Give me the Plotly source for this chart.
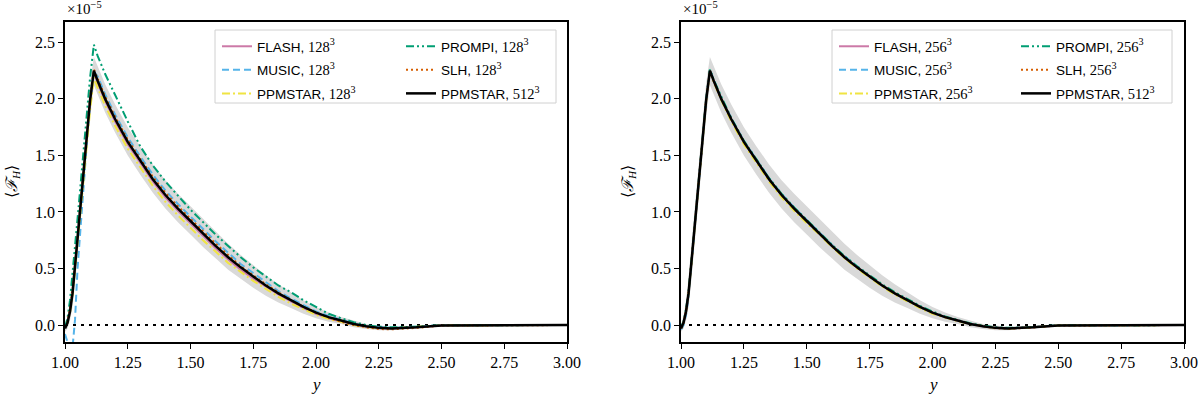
import plotly.graph_objects as go

# radial coordinate (shared by every profile)
y_grid = [1.00, 1.01, 1.02, 1.03, 1.04, 1.05, 1.06, 1.07, 1.08, 1.09, 1.10,
          1.115, 1.13, 1.16, 1.20, 1.25, 1.30, 1.35, 1.40, 1.45, 1.50, 1.55,
          1.60, 1.65, 1.70, 1.75, 1.80, 1.85, 1.90, 1.95, 2.00, 2.05, 2.10,
          2.15, 2.20, 2.25, 2.30, 2.40, 2.50, 2.75, 3.00]

# <F_H> in units of 1e-5
ppmstar_512 = [-0.03, 0.02, 0.12, 0.28, 0.52, 0.77, 1.02, 1.27, 1.52, 1.76, 1.99,
               2.25, 2.16, 2.00, 1.82, 1.62, 1.45, 1.29, 1.15, 1.03, 0.92, 0.81,
               0.70, 0.60, 0.51, 0.43, 0.35, 0.28, 0.22, 0.16, 0.11, 0.07, 0.04,
               0.01, -0.01, -0.025, -0.03, -0.02, -0.003, 0.0, 0.0]
band_hi = [0.0, 0.08, 0.22, 0.42, 0.68, 0.93, 1.18, 1.43, 1.68, 1.92, 2.14,
           2.37, 2.29, 2.13, 1.95, 1.75, 1.58, 1.42, 1.28, 1.16, 1.05, 0.94,
           0.83, 0.72, 0.62, 0.53, 0.44, 0.36, 0.29, 0.22, 0.16, 0.11, 0.07,
           0.04, 0.01, -0.005, -0.015, -0.01, 0.0, 0.0, 0.0]
band_lo = [-0.06, -0.03, 0.04, 0.16, 0.37, 0.61, 0.86, 1.11, 1.36, 1.60, 1.84,
           2.12, 2.04, 1.88, 1.70, 1.50, 1.33, 1.17, 1.03, 0.91, 0.80, 0.69,
           0.59, 0.49, 0.41, 0.33, 0.26, 0.20, 0.15, 0.10, 0.06, 0.03, 0.01,
           -0.02, -0.035, -0.045, -0.045, -0.03, -0.008, 0.0, 0.0]

# 128^3 runs
flash_128 = [-0.02, 0.03, 0.13, 0.29, 0.52, 0.76, 1.01, 1.26, 1.50, 1.74, 1.97,
             2.24, 2.14, 1.98, 1.80, 1.60, 1.43, 1.27, 1.13, 1.01, 0.90, 0.79,
             0.68, 0.58, 0.49, 0.41, 0.34, 0.27, 0.21, 0.15, 0.10, 0.06, 0.03,
             0.005, -0.015, -0.028, -0.03, -0.02, -0.003, 0.0, 0.0]
music_128 = [-0.08, -0.16, -0.22, -0.20, 0.05, 0.50, 0.82, 1.12, 1.42, 1.70, 1.96,
             2.24, 2.20, 2.04, 1.86, 1.66, 1.49, 1.33, 1.19, 1.07, 0.96, 0.85,
             0.74, 0.64, 0.54, 0.46, 0.38, 0.30, 0.235, 0.175, 0.12, 0.08, 0.045,
             0.015, -0.01, -0.02, -0.025, -0.015, -0.002, 0.0, 0.0]
ppmstar_128 = [-0.02, 0.02, 0.11, 0.26, 0.49, 0.73, 0.97, 1.21, 1.45, 1.68, 1.90,
               2.19, 2.10, 1.94, 1.76, 1.56, 1.39, 1.23, 1.09, 0.97, 0.86, 0.75,
               0.65, 0.55, 0.47, 0.39, 0.32, 0.25, 0.19, 0.14, 0.09, 0.055, 0.025,
               0.0, -0.015, -0.025, -0.028, -0.018, -0.003, 0.0, 0.0]
prompi_128 = [-0.02, 0.06, 0.22, 0.44, 0.69, 0.94, 1.19, 1.44, 1.69, 1.94, 2.19,
              2.48, 2.38, 2.22, 2.03, 1.80, 1.58, 1.41, 1.27, 1.14, 1.02, 0.91,
              0.80, 0.70, 0.60, 0.51, 0.43, 0.35, 0.29, 0.22, 0.16, 0.10, 0.06,
              0.025, 0.0, -0.015, -0.02, -0.015, -0.002, 0.0, 0.0]
slh_128 = [-0.02, 0.03, 0.14, 0.30, 0.54, 0.79, 1.04, 1.29, 1.54, 1.78, 2.01,
           2.26, 2.18, 2.02, 1.84, 1.64, 1.47, 1.31, 1.17, 1.05, 0.94, 0.83,
           0.72, 0.62, 0.52, 0.44, 0.36, 0.29, 0.22, 0.16, 0.11, 0.065, 0.03,
           0.0, -0.02, -0.035, -0.038, -0.025, -0.005, 0.0, 0.0]

# 256^3 runs
flash_256 = [-0.03, 0.02, 0.12, 0.28, 0.52, 0.77, 1.02, 1.27, 1.52, 1.76, 1.99,
             2.25, 2.16, 2.00, 1.82, 1.62, 1.45, 1.29, 1.15, 1.03, 0.92, 0.81,
             0.70, 0.60, 0.51, 0.43, 0.35, 0.28, 0.22, 0.16, 0.11, 0.07, 0.04,
             0.01, -0.01, -0.025, -0.03, -0.02, -0.003, 0.0, 0.0]
music_256 = [-0.04, 0.0, 0.09, 0.25, 0.49, 0.75, 1.00, 1.26, 1.51, 1.76, 1.99,
             2.26, 2.17, 2.01, 1.83, 1.63, 1.46, 1.30, 1.16, 1.04, 0.93, 0.82,
             0.71, 0.61, 0.52, 0.43, 0.35, 0.28, 0.22, 0.16, 0.11, 0.07, 0.04,
             0.01, -0.01, -0.025, -0.03, -0.02, -0.003, 0.0, 0.0]
ppmstar_256 = [-0.03, 0.02, 0.12, 0.28, 0.51, 0.76, 1.01, 1.26, 1.51, 1.75, 1.98,
               2.24, 2.15, 1.99, 1.80, 1.60, 1.43, 1.27, 1.13, 1.01, 0.90, 0.80,
               0.69, 0.59, 0.50, 0.42, 0.34, 0.27, 0.21, 0.15, 0.10, 0.065, 0.035,
               0.008, -0.012, -0.026, -0.03, -0.02, -0.003, 0.0, 0.0]
prompi_256 = [-0.02, 0.03, 0.14, 0.30, 0.54, 0.79, 1.04, 1.29, 1.54, 1.78, 2.00,
              2.26, 2.17, 2.02, 1.83, 1.63, 1.46, 1.30, 1.16, 1.04, 0.93, 0.82,
              0.71, 0.61, 0.52, 0.44, 0.36, 0.29, 0.23, 0.17, 0.12, 0.075, 0.045,
              0.015, -0.005, -0.02, -0.025, -0.018, -0.003, 0.0, 0.0]
slh_256 = [-0.03, 0.02, 0.12, 0.28, 0.52, 0.77, 1.02, 1.27, 1.52, 1.76, 1.99,
           2.25, 2.16, 2.00, 1.82, 1.62, 1.45, 1.29, 1.15, 1.03, 0.92, 0.81,
           0.70, 0.60, 0.51, 0.43, 0.35, 0.28, 0.22, 0.16, 0.11, 0.07, 0.04,
           0.01, -0.012, -0.028, -0.033, -0.022, -0.004, 0.0, 0.0]

x_ticks = [1.00, 1.25, 1.50, 1.75, 2.00, 2.25, 2.50, 2.75, 3.00]
y_ticks = [0.0, 0.5, 1.0, 1.5, 2.0, 2.5]
zero_x = [1.0, 3.0]
zero_y = [0.0, 0.0]

W, H = 1200, 399
SERIF = "Liberation Serif, Times New Roman, serif"
SANS = "Liberation Sans, Arial, sans-serif"

def px_x(p):
    return p / W

def px_y(p):
    return 1 - p / H

def label(name, res):
    return ("%s, <span style='font-family:Liberation Serif;font-size:14.5px'>%s<sup>3</sup></span>"
            % (name, res))

styles = [
    ("FLASH", "#CC79A7", "solid", 2.0),
    ("MUSIC", "#56B4E9", "7px,4px", 2.0),
    ("PPMSTAR", "#F0E442", "8px,3px,2px,3px", 2.0),
    ("PROMPI", "#009E73", "8px,3px,2px,3px,2px,3px", 2.0),
    ("SLH", "#D55E00", "2px,3px", 2.0),
]

fig = go.Figure()

panels = [
    ("x", "y", "128", [flash_128, music_128, ppmstar_128, prompi_128, slh_128], ("legend", "legend2")),
    ("x2", "y2", "256", [flash_256, music_256, ppmstar_256, prompi_256, slh_256], ("legend3", "legend4")),
]

for xa, ya, res, series, (lg1, lg2) in panels:
    # spread of the 512^3 run
    fig.add_trace(go.Scatter(x=y_grid, y=band_lo, xaxis=xa, yaxis=ya, mode="lines",
                             line=dict(width=0, color="rgba(0,0,0,0)"), showlegend=False,
                             hoverinfo="skip"))
    fig.add_trace(go.Scatter(x=y_grid, y=band_hi, xaxis=xa, yaxis=ya, mode="lines",
                             line=dict(width=0, color="rgba(0,0,0,0)"), fill="tonexty",
                             fillcolor="#d9d9d9", showlegend=False, hoverinfo="skip"))
    fig.add_trace(go.Scatter(x=zero_x, y=zero_y, xaxis=xa, yaxis=ya, mode="lines",
                             line=dict(color="black", width=2, dash="3px,5px"),
                             showlegend=False, hoverinfo="skip"))
    for i, ((name, color, dash, w), vals) in enumerate(zip(styles, series)):
        fig.add_trace(go.Scatter(x=y_grid, y=vals, xaxis=xa, yaxis=ya, mode="lines",
                                 name=label(name, res), legend=lg1 if i < 3 else lg2,
                                 legendgroup=xa + name,
                                 line=dict(color=color, width=w, dash=dash)))
    fig.add_trace(go.Scatter(x=y_grid, y=ppmstar_512, xaxis=xa, yaxis=ya, mode="lines",
                             name=label("PPMSTAR", "512"), legend=lg2,
                             legendgroup=xa + "ref",
                             line=dict(color="black", width=2.5)))

axis_common = dict(showline=True, linecolor="black", linewidth=1.5, mirror=True,
                   ticks="outside", ticklen=5, tickwidth=1.2, tickcolor="black",
                   showgrid=False, zeroline=False, automargin=False,
                   tickfont=dict(family=SERIF, size=16, color="black"))

fig.update_layout(
    width=W, height=H,
    margin=dict(l=0, r=0, t=0, b=0),
    paper_bgcolor="white", plot_bgcolor="white",
    xaxis=dict(domain=[px_x(65), px_x(567)], anchor="y", range=[1, 3],
               tickvals=x_ticks, tickformat=".2f", **axis_common),
    yaxis=dict(domain=[px_y(342), px_y(22)], anchor="x", range=[-0.15, 2.68],
               tickvals=y_ticks, tickformat=".1f", **axis_common),
    xaxis2=dict(domain=[px_x(681), px_x(1184)], anchor="y2", range=[1, 3],
                tickvals=x_ticks, tickformat=".2f", **axis_common),
    yaxis2=dict(domain=[px_y(342), px_y(22)], anchor="x2", range=[-0.15, 2.68],
                tickvals=y_ticks, tickformat=".1f", **axis_common),
)

legend_common = dict(bgcolor="rgba(0,0,0,0)", borderwidth=0, tracegroupgap=3,
                     font=dict(family=SANS, size=13.5, color="black"),
                     xanchor="left", yanchor="top", orientation="v")
fig.update_layout(
    legend=dict(x=px_x(217), y=px_y(31), **legend_common),
    legend2=dict(x=px_x(401), y=px_y(31), **legend_common),
    legend3=dict(x=px_x(834), y=px_y(31), **legend_common),
    legend4=dict(x=px_x(1016), y=px_y(31), **legend_common),
)

# legend frames
for x0, x1 in [(215, 556), (832, 1172)]:
    fig.add_shape(type="rect", xref="paper", yref="paper",
                  x0=px_x(x0), x1=px_x(x1), y0=px_y(103), y1=px_y(30),
                  line=dict(color="#d0d0d0", width=1), fillcolor="rgba(255,255,255,0.8)",
                  layer="above")

# axis titles and offset text
for left, right in [(65, 567), (681, 1184)]:
    fig.add_annotation(xref="paper", yref="paper", x=px_x((left + right) / 2), y=px_y(384),
                       text="<i>y</i>", showarrow=False, xanchor="center", yanchor="middle",
                       font=dict(family=SERIF, size=17, color="black"))
    fig.add_annotation(xref="paper", yref="paper", x=px_x(left - 53), y=px_y(182),
                       text="⟨<i>ℱ</i><sub><i>H</i></sub>⟩", textangle=-90, showarrow=False,
                       xanchor="center", yanchor="middle",
                       font=dict(family=SERIF, size=16, color="black"))
    fig.add_annotation(xref="paper", yref="paper", x=px_x(left), y=px_y(19),
                       text="×10<sup>−5</sup>", showarrow=False, xanchor="left", yanchor="bottom",
                       font=dict(family=SERIF, size=15, color="black"))

# drop the page's default body margin so the figure sits at the window corner
fig.write_html("out.html", config={"displayModeBar": False},
               post_script="document.body.style.margin='0';")
